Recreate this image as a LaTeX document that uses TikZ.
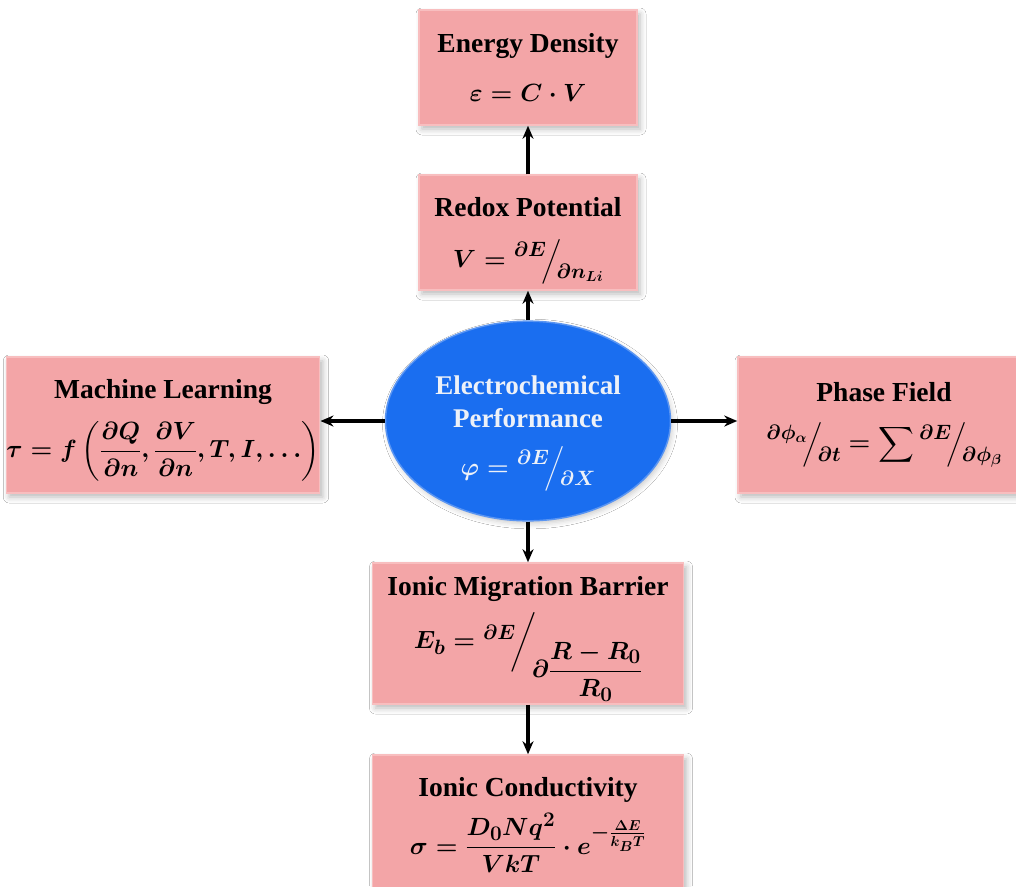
\documentclass[tikz,border=0pt]{standalone}
\usepackage{amsmath}
\usepackage{fontspec}
\setmainfont{Liberation Serif}
\usetikzlibrary{shapes.geometric,shadows.blur,arrows.meta}
\definecolor{boxfill}{HTML}{F3A5A7}
\definecolor{boxedge}{HTML}{F8BEBF}
\definecolor{ellfill}{HTML}{1A6EF0}
\definecolor{elledge}{HTML}{5A95F2}
\definecolor{elltext}{HTML}{EDF1F8}
% slashed fraction with large numerator and denominator
\newcommand{\myslfrac}[2]{\raisebox{0.42em}{\fontsize{22.5}{22.5}\selectfont$#1$}\!\Big/\!\raisebox{-0.38em}{\fontsize{22.5}{22.5}\selectfont$#2$}}
\begin{document}
\begin{tikzpicture}[x=1pt,y=-1pt,
  card/.style={rectangle, fill=boxfill, draw=boxedge, line width=1.5pt,
    blur shadow={shadow xshift=3pt, shadow yshift=-4pt, shadow blur radius=6pt, shadow opacity=28},
    font=\fontsize{27.5}{33}\selectfont\bfseries\boldmath, align=center, inner sep=0pt},
  core/.style={ellipse, fill=ellfill, draw=elledge, line width=1.5pt, text=elltext,
    blur shadow={shadow xshift=2pt, shadow yshift=-3pt, shadow blur radius=5pt, shadow opacity=20},
    font=\fontsize{27}{33}\selectfont\bfseries\boldmath, align=center, inner sep=0pt},
  conn/.style={-{Stealth[length=13pt,width=11pt]}, line width=3.2pt}]
\path[use as bounding box, clip] (0,0) rectangle (1016,886);
\fill[white] (0,0) rectangle (1016,886);

\node[card, minimum width=218pt, minimum height=115pt] (ed) at (528,67.5)
  {Energy Density\\[16pt] $\varepsilon = C\cdot V$};
\node[card, minimum width=218pt, minimum height=115pt] (rp) at (528,232.5)
  {\rule{0pt}{36pt}Redox Potential\\[18pt] $V = \myslfrac{\partial E}{\partial n_{Li}}$};
\node[core, minimum width=285pt, minimum height=172pt] (ell) at (528,421)
  {\rule{0pt}{44pt}Electrochemical\\Performance\\[15pt] $\varphi = \myslfrac{\partial E}{\partial X}$};
\node[card, minimum width=310pt, minimum height=136pt] (ml) at (163,425)
  {\rule{0pt}{30pt}Machine Learning\\[16pt] {\fontsize{25.5}{30}\selectfont$\tau = f\left(\dfrac{\partial Q}{\partial n},\dfrac{\partial V}{\partial n},T,I,\ldots\right)$}};
\node[card, minimum width=292pt, minimum height=136pt] (pf) at (884,425)
  {Phase Field\\[16pt] $\myslfrac{\partial\phi_\alpha}{\partial t} = \displaystyle\sum \myslfrac{\partial E}{\partial\phi_\beta}$};
\node[card, minimum width=311pt, minimum height=141pt] (imb) at (528,633.5)
  {\rule{0pt}{30pt}Ionic Migration Barrier\\[10pt] $E_b = \raisebox{0.35em}{\fontsize{22.5}{22.5}\selectfont$\partial E$}\!\bigg/\!\raisebox{-1.05em}{$\partial\dfrac{R-R_0}{R_0}$}$};
\node[card, minimum width=311pt, minimum height=140pt] (ic) at (528,825)
  {Ionic Conductivity\\[10pt] $\sigma = \dfrac{D_0Nq^2}{VkT}\cdot e^{-\frac{\Delta E}{k_BT}}$};

\draw[conn] (rp.north) -- (ed.south);
\draw[conn] (ell.north) -- (rp.south);
\draw[conn] (ell.west) -- (ell.west -| ml.east);
\draw[conn] (ell.east) -- (ell.east -| pf.west);
\draw[conn] (ell.south) -- (imb.north);
\draw[conn] (imb.south) -- (ic.north);
\end{tikzpicture}
\end{document}
